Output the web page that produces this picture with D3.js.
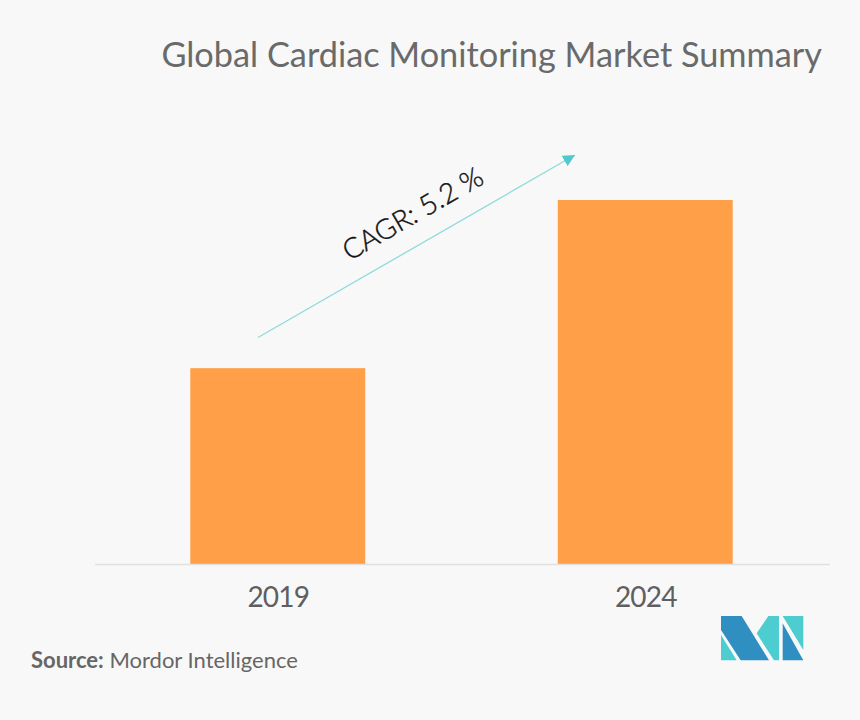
<!DOCTYPE html>
<html>
<head>
<meta charset="utf-8">
<script src="https://d3js.org/d3.v7.min.js"></script>
<style>
  html, body { margin: 0; padding: 0; background: #f8f8f8; }
  svg { display: block; font-family: Lato, sans-serif; }
</style>
</head>
<body>
<div id="chart"></div>
<script>
var years = ["2019", "2024"];
var values = [53.8, 100];   // no value axis in the picture, read as share of the 2024 bar
var titleText = "Global Cardiac Monitoring Market Summary";
var cagrText = "CAGR: 5.2 %";

var width = 860, height = 720;

var svg = d3.select("#chart")
  .append("svg")
  .attr("width", width)
  .attr("height", height);

svg.append("rect")
  .attr("width", width)
  .attr("height", height)
  .attr("fill", "#f8f8f8");

var x = d3.scaleBand()
  .domain(years)
  .range([94, 829])
  .paddingInner(0.524)
  .paddingOuter(0.262);

var y = d3.scaleLinear()
  .domain([0, 100])
  .range([564, 200]);

svg.append("text")
  .attr("x", 822)
  .attr("y", 67)
  .attr("text-anchor", "end")
  .attr("font-size", 34.3)
  .attr("fill", "#6a6a6a")
  .text(titleText);

svg.selectAll(".bar")
  .data(values)
  .enter()
  .append("rect")
  .attr("class", "bar")
  .attr("x", function(d, i) { return x(years[i]); })
  .attr("y", function(d) { return y(d); })
  .attr("width", x.bandwidth())
  .attr("height", function(d) { return y(0) - y(d); })
  .attr("fill", "#ff9f47");

var axis = svg.append("g")
  .attr("transform", "translate(0.5,564)")
  .call(d3.axisBottom(x).tickSize(0).tickPadding(23));
axis.select(".domain").attr("stroke", "#e0e0e0").attr("stroke-width", 1.5);
axis.selectAll("text")
  .attr("font-family", "Lato, sans-serif")
  .attr("font-size", 28)
  .attr("letter-spacing", -0.8)
  .attr("fill", "#5f5f5f");

// growth arrow
svg.append("defs").append("marker")
  .attr("id", "head")
  .attr("viewBox", "0 0 12 12")
  .attr("refX", 12)
  .attr("refY", 6)
  .attr("markerUnits", "userSpaceOnUse")
  .attr("markerWidth", 12)
  .attr("markerHeight", 12)
  .attr("orient", "auto")
  .append("path")
  .attr("d", "M0,0L12,6L0,12Z")
  .attr("fill", "#4fc9cc");

svg.append("line")
  .attr("x1", 258)
  .attr("y1", 337.5)
  .attr("x2", 575)
  .attr("y2", 155)
  .attr("stroke", "#8fdadc")
  .attr("stroke-width", 1.3)
  .attr("marker-end", "url(#head)");

svg.append("text")
  .attr("transform", "translate(414,216) rotate(-30)")
  .attr("text-anchor", "middle")
  .attr("dominant-baseline", "middle")
  .attr("font-size", 28)
  .attr("font-weight", 300)
  .attr("fill", "#111111")
  .attr("stroke", "#111111")
  .attr("stroke-width", 0.4)
  .text(cagrText);

// source line
var source = svg.append("text")
  .attr("x", 31)
  .attr("y", 668)
  .attr("font-size", 22)
  .attr("fill", "#666666");
source.append("tspan").attr("font-weight", 700).text("Source:");
source.append("tspan").text(" Mordor Intelligence");

// logo
var logo = svg.append("g").attr("transform", "translate(700,600) scale(0.3333)");
var logoShapes = [
  ["#2e8fc0", "M63,48L125,48L207,181L122,181L63,90Z"],
  ["#4dcdd0", "M63,105L110,181L63,181Z"],
  ["#4dcdd0", "M170,100L205,48L237,48L237,181L222,181Z"],
  ["#4dcdd0", "M248,48L310,48L310,150Z"],
  ["#2e8fc0", "M248,70L310,181L248,181Z"]
];
logo.selectAll("path")
  .data(logoShapes)
  .enter()
  .append("path")
  .attr("fill", function(d) { return d[0]; })
  .attr("d", function(d) { return d[1]; });
</script>
</body>
</html>
